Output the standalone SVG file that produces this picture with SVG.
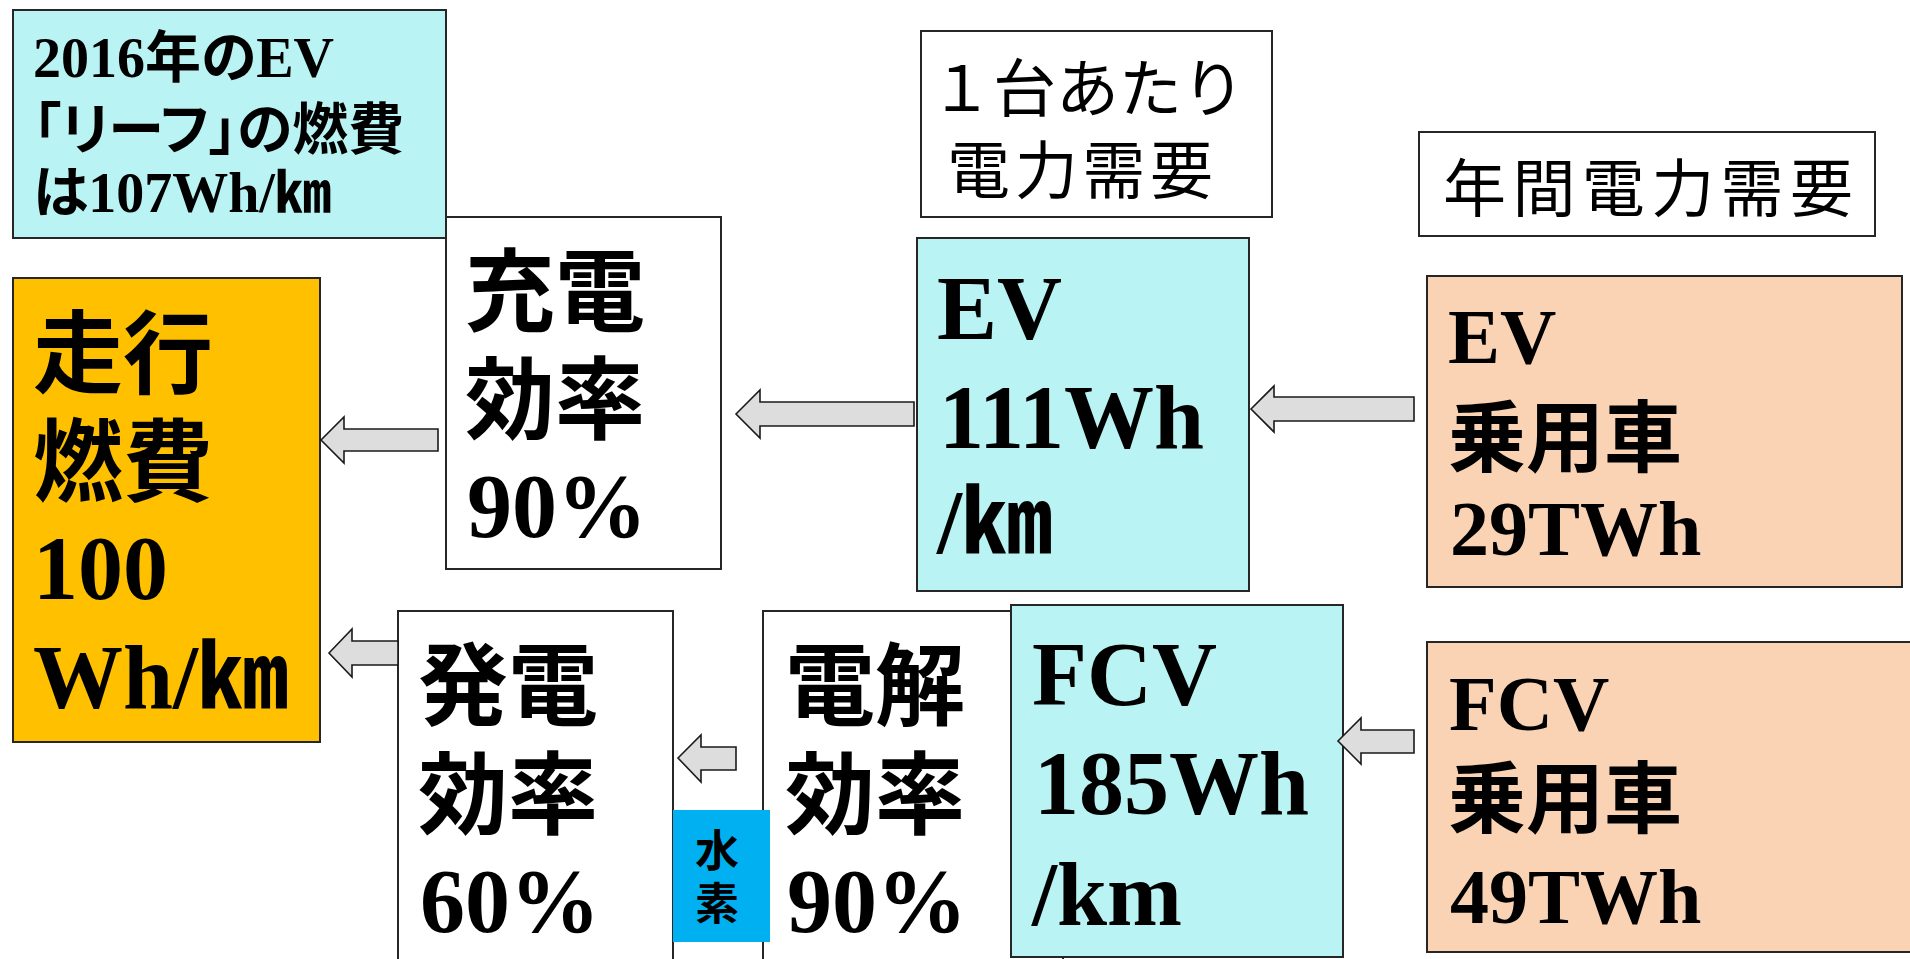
<svg xmlns="http://www.w3.org/2000/svg" width="1910" height="959" viewBox="0 0 1910 959">
<style>
  .box { stroke: #262626; stroke-width: 2; }
  .white { fill: #ffffff; }
  .cyan { fill: #b9f3f3; }
  .orange { fill: #ffc000; }
  .peach { fill: #fad3b5; }
  .h2 { fill: #00b0f0; }
  .arrow { fill: #dddddd; stroke: #1a1a1a; stroke-width: 1.6; stroke-linejoin: miter; }
  .big { font-family: "Liberation Serif", "Noto Sans CJK JP", serif; font-weight: bold; font-size: 90px; fill: #000; }
  .mid { font-family: "Liberation Serif", "Noto Sans CJK JP", serif; font-weight: bold; font-size: 78px; fill: #000; }
  .note { font-family: "Liberation Serif", "Noto Sans CJK JP", serif; font-weight: bold; font-size: 56px; fill: #000; font-feature-settings: "palt"; }
  .hdr { font-family: "Noto Sans CJK JP", sans-serif; font-weight: normal; font-size: 63px; fill: #000; }
  .h2t { font-family: "Noto Sans CJK JP", sans-serif; font-weight: bold; font-size: 44px; fill: #000; text-anchor: middle; }
</style>

<g id="note-leaf">
  <rect class="box cyan" x="13" y="10" width="433" height="228"/>
  <text class="note" x="33" y="77">2016年のEV</text>
  <text class="note" x="33" y="149">「リーフ」の燃費</text>
  <text class="note" x="33" y="212">は107Wh/㎞</text>
</g>

<g id="running-consumption">
  <rect class="box orange" x="13" y="278" width="307" height="464"/>
  <text class="big" x="33" y="386">走行</text>
  <text class="big" x="33" y="494">燃費</text>
  <text class="big" x="33" y="599">100</text>
  <text class="big" x="33" y="708">Wh/㎞</text>
</g>

<g id="charge-efficiency">
  <rect class="box white" x="446" y="217" width="275" height="352"/>
  <text class="big" x="465" y="324">充電</text>
  <text class="big" x="465" y="432">効率</text>
  <text class="big" x="467" y="537">90%</text>
</g>

<g id="header-per-car">
  <rect class="box white" x="921" y="31" width="351" height="186"/>
  <text class="hdr" x="930" y="111">１台あたり</text>
  <text class="hdr" x="947" y="193" textLength="266" lengthAdjust="spacing">電力需要</text>
</g>

<g id="ev-per-km">
  <rect class="box cyan" x="917" y="238" width="332" height="353"/>
  <text class="big" x="937" y="339">EV</text>
  <text class="big" x="939" y="448">111Wh</text>
  <text class="big" x="937" y="553">/㎞</text>
</g>

<g id="header-annual">
  <rect class="box white" x="1419" y="132" width="456" height="104"/>
  <text class="hdr" x="1443" y="211" textLength="410" lengthAdjust="spacing">年間電力需要</text>
</g>

<g id="ev-annual">
  <rect class="box peach" x="1427" y="276" width="475" height="311"/>
  <text class="mid" x="1448" y="363">EV</text>
  <text class="mid" x="1448" y="466">乗用車</text>
  <text class="mid" x="1450" y="555">29TWh</text>
</g>

<g id="power-generation-efficiency">
  <rect class="box white" x="398" y="611" width="275" height="360"/>
  <text class="big" x="418" y="718">発電</text>
  <text class="big" x="418" y="827">効率</text>
  <text class="big" x="420" y="932">60%</text>
</g>

<g id="electrolysis-efficiency">
  <rect class="box white" x="763" y="611" width="300" height="360"/>
  <text class="big" x="785" y="718">電解</text>
  <text class="big" x="785" y="827">効率</text>
  <text class="big" x="787" y="932">90%</text>
</g>

<g id="hydrogen">
  <rect class="h2" x="673" y="810" width="97" height="132"/>
  <text class="h2t" x="717" y="867">水</text>
  <text class="h2t" x="717" y="920">素</text>
</g>

<g id="fcv-per-km">
  <rect class="box cyan" x="1011" y="605" width="332" height="352"/>
  <text class="big" x="1032" y="705">FCV</text>
  <text class="big" x="1034" y="814">185Wh</text>
  <text class="big" x="1032" y="925">/km</text>
</g>

<g id="fcv-annual">
  <rect class="box peach" x="1427" y="642" width="500" height="310"/>
  <text class="mid" x="1449" y="730">FCV</text>
  <text class="mid" x="1448" y="827">乗用車</text>
  <text class="mid" x="1450" y="923">49TWh</text>
</g>

<g id="connectors">
  <polygon class="arrow" points="321,440 344,417 344,429 438,429 438,451 344,451 344,463"/>
  <polygon class="arrow" points="736,414 760,390 760,402 914,402 914,426 760,426 760,438"/>
  <polygon class="arrow" points="1251,409 1274,386 1274,397 1414,397 1414,421 1274,421 1274,432"/>
  <polygon class="arrow" points="329,653 352,629 352,641 398,641 398,665 352,665 352,677"/>
  <polygon class="arrow" points="678,758 701,735 701,747 736,747 736,770 701,770 701,782"/>
  <polygon class="arrow" points="1338,741 1361,718 1361,730 1414,730 1414,753 1361,753 1361,764"/>
</g>
</svg>
